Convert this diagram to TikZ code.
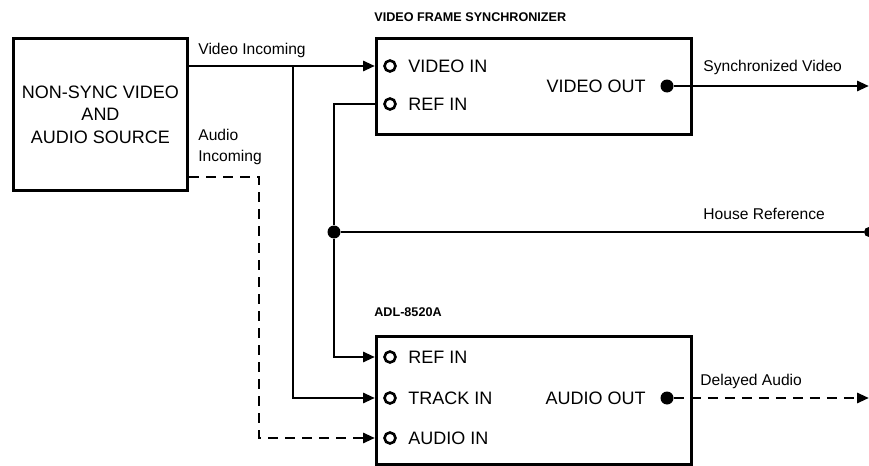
\documentclass[tikz,border=0pt]{standalone}
\usepackage{fontspec}
\setmainfont{Liberation Sans}
\usetikzlibrary{arrows.meta}
\usetikzlibrary{positioning}

\begin{document}
\begin{tikzpicture}[x=0.5pt, y=-0.5pt,
    box/.style={draw, line width=1.5pt, anchor=north west, inner sep=0pt},
    port/.style={circle, draw, line width=1.3pt, fill=white, inner sep=0pt, minimum size=5.5pt},
    dot/.style={circle, fill=black, inner sep=0pt, minimum size=6.5pt},
    wire/.style={line width=1.45pt},
    dashwire/.style={line width=1.45pt, dash pattern=on 5pt off 3.5pt},
    tip/.style={-{Triangle[length=6pt, width=5pt]}},
    big/.style={font=\fontsize{9}{11.25}\selectfont, inner sep=0pt},
    small/.style={font=\fontsize{7.8}{10.5}\selectfont, inner sep=0pt, anchor=west},
    head/.style={font=\fontsize{6.3}{8}\selectfont\bfseries, inner sep=0pt, anchor=west}]
        \useasboundingbox (0,0) rectangle (869,466);

        % Source box
        \node[box, minimum width=87pt, minimum height=76pt, align=center, font=\fontsize{9}{11.25}\selectfont] (src) at (12,37) {NON-SYNC VIDEO\\AND\\AUDIO SOURCE};

        % Video frame synchronizer
        \node[box, minimum width=157.5pt, minimum height=48pt] (vfs) at (375,37) {};
        \node[head] (vfstitle) at (374,17) {VIDEO FRAME SYNCHRONIZER};
        \node[port] (vin) at (390,66) {};
        \node[port] (vref) at (390,104) {};
        \node[big, anchor=west] (vintxt) at (408,66) {VIDEO IN};
        \node[big, anchor=west] (vreftxt) at (408,104) {REF IN};
        \node[big, anchor=east] (vouttxt) at (646,86) {VIDEO OUT};
        \node[dot] (vout) at (667,86) {};
        \coordinate (vend) at (869,86);

        % ADL-8520A
        \node[box, minimum width=157.5pt, minimum height=64pt] (adl) at (375,335) {};
        \node[head] (adltitle) at (374,312) {ADL-8520A};
        \node[port] (aref) at (390,357) {};
        \node[port] (atrack) at (390,398) {};
        \node[port] (ain) at (390,438) {};
        \node[big, anchor=west] (areftxt) at (408,357) {REF IN};
        \node[big, anchor=west] (atracktxt) at (408,398) {TRACK IN};
        \node[big, anchor=west] (aintxt) at (408,438) {AUDIO IN};
        \node[big, anchor=east] (aouttxt) at (646,398) {AUDIO OUT};
        \node[dot] (aout) at (667,398) {};
        \coordinate (aend) at (869,398);

        % House reference
        \node[dot] (jref) at (334,232) {};
        \node[dot, minimum size=5pt] (hend) at (869,232) {};

        % Corners of the wiring
        \coordinate (vsplit) at (293,66);
        \coordinate (tcorner) at (293,398);
        \coordinate (rtop) at (334,104);
        \coordinate (rbot) at (334,357);
        \coordinate (aup) at (259,177);
        \coordinate (adown) at (259,438);

        % Wires
        \draw[wire, tip] (src.east |- vin) -- (vfs.west |- vin);
        \draw[wire, tip] (vsplit) -- (tcorner) -- (adl.west |- atrack);
        \draw[wire] (vfs.west |- vref) -- (rtop) -- (jref);
        \draw[wire, tip] (jref) -- (rbot) -- (adl.west |- aref);
        \draw[wire] (jref) -- (hend);
        \draw[dashwire, tip] (src.east |- aup) -- (aup) -- (adown) -- (adl.west |- ain);
        \draw[wire, tip] (vout) -- (vend);
        \draw[dashwire, tip] (aout) -- (aend);

        % Labels
        \node[small] (lvid) at (198,50) {Video Incoming};
        \node[small, align=left] (laud) at (198,146.5) {Audio\\Incoming};
        \node[small] (lsync) at (703,67) {Synchronized Video};
        \node[small] (lhouse) at (703,214) {House Reference};
        \node[small] (ldelay) at (700,381) {Delayed Audio};
\end{tikzpicture}
\end{document}
